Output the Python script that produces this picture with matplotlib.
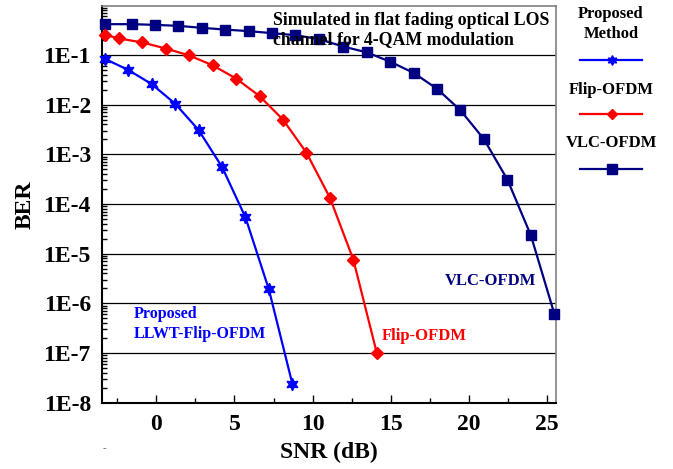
import matplotlib
matplotlib.use("Agg")
import matplotlib.pyplot as plt
from matplotlib.lines import Line2D
from matplotlib.ticker import MultipleLocator, LogLocator, NullFormatter, FixedLocator

plt.rcParams['font.family'] = ['Liberation Serif', 'DejaVu Serif']
plt.rcParams['font.weight'] = 'bold'

# data
snr_proposed = [-3.3, -1.8, -0.3, 1.2, 2.7, 4.2, 5.7, 7.2, 8.7]
ber_proposed = [8.4e-2, 5.0e-2, 2.6e-2, 1.05e-2, 3.1e-3, 5.6e-4, 5.4e-5, 1.9e-6, 2.4e-8]

snr_flip = [-3.3, -2.4, -0.9, 0.6, 2.1, 3.6, 5.1, 6.6, 8.1, 9.6, 11.1, 12.6, 14.1]
ber_flip = [0.258, 0.215, 0.179, 0.135, 0.098, 0.062, 0.0336, 0.0149, 5.0e-3, 1.08e-3,
            1.34e-4, 7.6e-6, 1.0e-7]

snr_vlc = [-3.3, -1.55, -0.1, 1.4, 2.9, 4.4, 5.9, 7.4, 8.9, 10.4, 11.95, 13.45, 14.95,
           16.45, 17.95, 19.45, 20.95, 22.45, 23.95, 25.45]
ber_vlc = [0.417, 0.417, 0.404, 0.386, 0.352, 0.325, 0.302, 0.275, 0.25, 0.209, 0.148,
           0.113, 0.0734, 0.0437, 0.0209, 7.7e-3, 2.02e-3, 3.1e-4, 2.35e-5, 6.2e-7]

y_ticks = [1e-8, 1e-7, 1e-6, 1e-5, 1e-4, 1e-3, 1e-2, 1e-1]
y_labels = ["1E-8", "1E-7", "1E-6", "1E-5", "1E-4", "1E-3", "1E-2", "1E-1"]
x_ticks = [0, 5, 10, 15, 20, 25]

c_prop = '#0000FF'
c_flip = '#FF0000'
c_vlc = '#000080'
star6 = (6, 1, 0)

fig = plt.figure(figsize=(6.73, 4.69), dpi=100)
ax = fig.add_axes([0.1516, 0.1414, 0.6741, 0.8458])

ax.plot(snr_vlc, ber_vlc, color=c_vlc, lw=1.6, marker='s', ms=7.5, clip_on=False, zorder=3)
ax.plot(snr_flip, ber_flip, color=c_flip, lw=1.6, marker='D', ms=6.5, clip_on=False, zorder=4)
ax.plot(snr_proposed, ber_proposed, color=c_prop, lw=1.6, marker=star6, ms=9,
        clip_on=False, zorder=5)

ax.set_yscale('log')
ax.set_ylim(1e-8, 0.968)
ax.set_xlim(-3.47, 25.54)

ax.yaxis.set_major_locator(FixedLocator(y_ticks))
ax.set_yticklabels(y_labels)
ax.yaxis.set_minor_locator(LogLocator(base=10, subs=range(2, 10), numticks=20))
ax.yaxis.set_minor_formatter(NullFormatter())
ax.xaxis.set_major_locator(FixedLocator(x_ticks))
ax.xaxis.set_minor_locator(MultipleLocator(2.5))

ax.tick_params(axis='both', which='both', direction='in', labelsize=17, width=1.0)
ax.tick_params(axis='x', which='major', length=6, pad=8)
ax.tick_params(axis='x', which='minor', length=3.3)
ax.tick_params(axis='y', which='major', length=0, pad=8)
ax.tick_params(axis='y', which='minor', length=3.5)

ax.grid(True, which='major', axis='y', color='black', lw=0.9)
ax.set_axisbelow(True)

for s in ['left', 'bottom']:
    ax.spines[s].set_linewidth(1.5)
    ax.spines[s].set_color('black')
for s in ['top', 'right']:
    ax.spines[s].set_linewidth(1.2)
    ax.spines[s].set_color('#808080')

ax.set_xlabel("SNR (dB)", fontsize=17, fontweight='bold')
ax.xaxis.set_label_coords(0.5, -0.10)
ax.set_ylabel("BER", fontsize=17, fontweight='bold')
ax.yaxis.set_label_coords(-0.147, 0.5)

# annotations inside the plot
ax.text(0.376, 0.985, "Simulated in flat fading optical LOS\nchannel for 4-QAM modulation",
        transform=ax.transAxes, ha='left', va='top', fontsize=12.8, fontweight='bold',
        linespacing=1.15, zorder=6)
ax.text(-1.42, 10 ** -6.42, "Proposed\nLLWT-Flip-OFDM", color=c_prop, fontsize=11.5,
        fontweight='bold', ha='left', va='center', linespacing=1.3)
ax.text(14.4, 10 ** -6.65, "Flip-OFDM", color=c_flip, fontsize=12, fontweight='bold',
        ha='left', va='center')
ax.text(18.45, 10 ** -5.55, "VLC-OFDM", color=c_vlc, fontsize=12, fontweight='bold',
        ha='left', va='center')

# legend drawn by hand to the right of the axes
W, H = 673.0, 469.0
leg_items = [("Proposed\nMethod", 24, 60.5, c_prop, star6, 7),
             ("Flip-OFDM", 90, 114.5, c_flip, 'D', 5.5),
             ("VLC-OFDM", 143, 169, c_vlc, 's', 7.5)]
for label, ty, ly, col, mk, size in leg_items:
    fig.text(611 / W, 1 - ty / H, label, ha='center', va='center', fontsize=12,
             fontweight='bold', linespacing=1.25)
    fig.add_artist(Line2D([580 / W, 642 / W], [1 - ly / H, 1 - ly / H], color=col, lw=1.6,
                          transform=fig.transFigure))
    fig.add_artist(Line2D([612 / W], [1 - ly / H], color=col, marker=mk, ms=size,
                          transform=fig.transFigure))

fig.text(104 / W, 1 - 449 / H, "-", color='#808080', fontsize=8, ha='center', va='center')

fig.savefig("out.png", dpi=100)
